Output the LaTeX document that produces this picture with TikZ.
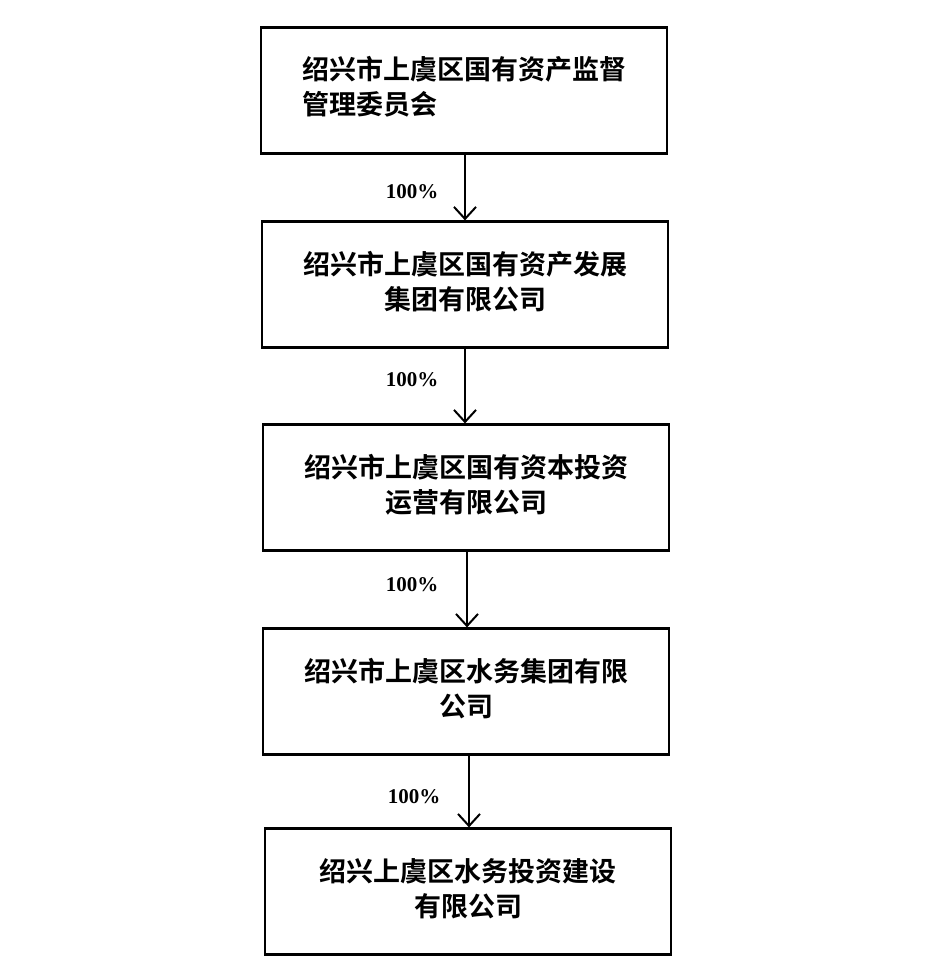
\documentclass[tikz,border=0pt]{standalone}
\usepackage{fontspec}
\newfontfamily\cjk{Noto Sans CJK SC Bold}
\setmainfont{Liberation Serif}
\usetikzlibrary{arrows.meta}
\begin{document}
\begin{tikzpicture}[x=1pt,y=-1pt,
  box/.style={draw,line width=2.2pt,minimum width=406pt,minimum height=126pt,
    font=\cjk\fontsize{27}{35}\selectfont,inner sep=0pt},
  arr/.style={line width=2pt,-{Straight Barb[length=12pt,width=22pt,line width=2pt]}},
  pct/.style={font=\bfseries\fontsize{21}{24}\selectfont}]
\useasboundingbox (0,0) rectangle (946,976);
\node[box] (b1) at (464,90.5) {\begin{tabular}{@{}l@{}}绍兴市上虞区国有资产监督\\管理委员会\end{tabular}};
\node[box] (b2) at (465,284.5) {\begin{tabular}{@{}c@{}}绍兴市上虞区国有资产发展\\集团有限公司\end{tabular}};
\node[box] (b3) at (466,487.5) {\begin{tabular}{@{}c@{}}绍兴市上虞区国有资本投资\\运营有限公司\end{tabular}};
\node[box] (b4) at (466,691.5) {\begin{tabular}{@{}c@{}}绍兴市上虞区水务集团有限\\公司\end{tabular}};
\node[box] (b5) at (468,891.5) {\begin{tabular}{@{}c@{}}绍兴上虞区水务投资建设\\有限公司\end{tabular}};
\draw[arr] (b1.south -| 465,0) -- (b2.north -| 465,0);
\draw[arr] (b2.south -| 465,0) -- (b3.north -| 465,0);
\draw[arr] (b3.south -| 467,0) -- (b4.north -| 467,0);
\draw[arr] (b4.south -| 469,0) -- (b5.north -| 469,0);
\node[pct] (p1) at (412,192) {100\%};
\node[pct] (p2) at (412,380) {100\%};
\node[pct] (p3) at (412,585) {100\%};
\node[pct] (p4) at (414,797) {100\%};
\end{tikzpicture}
\end{document}
